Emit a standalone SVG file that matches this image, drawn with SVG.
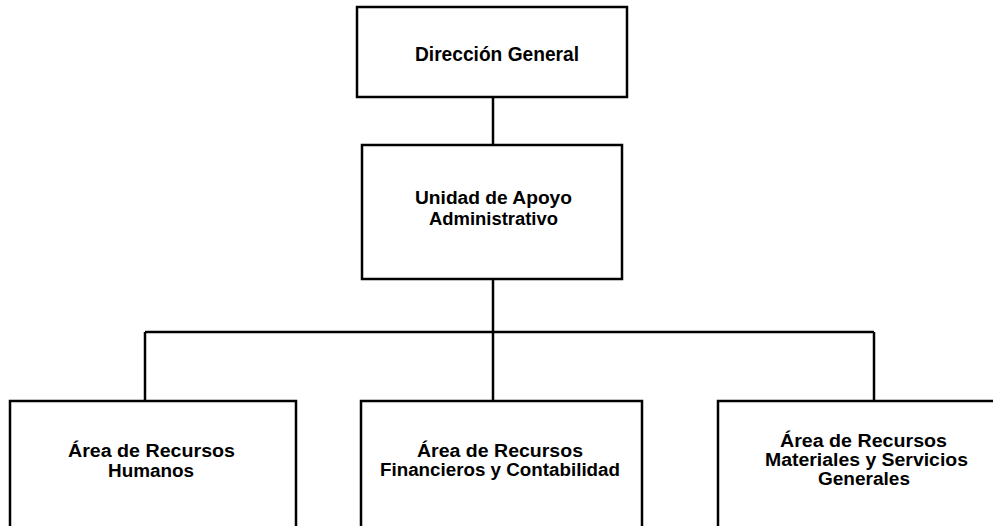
<svg xmlns="http://www.w3.org/2000/svg" width="993" height="526" viewBox="0 0 993 526">
<style>
.box{fill:#fff;stroke:#000;stroke-width:2.5}
.ln{fill:none;stroke:#000;stroke-width:2.5}
text{font-family:"Liberation Sans",Arial,sans-serif;font-size:18px;font-weight:bold;text-anchor:middle;fill:#000}
.big{font-size:21px}
</style>
<rect width="993" height="526" fill="#fff"/>
<g id="connectors">
<path class="ln" d="M493 97V145"/>
<path class="ln" d="M493 279V332"/>
<path class="ln" d="M145 332H874"/>
<path class="ln" d="M145 332V401"/>
<path class="ln" d="M493 332V401"/>
<path class="ln" d="M874 332V401"/>
</g>
<g id="direccion">
<rect class="box" x="357" y="7" width="270" height="90"/>
<text class="big" x="497" y="61" textLength="164" lengthAdjust="spacingAndGlyphs">Dirección General</text>
</g>
<g id="unidad">
<rect class="box" x="362" y="145" width="260" height="134"/>
<text x="493.5" y="204" textLength="157" lengthAdjust="spacingAndGlyphs">Unidad de Apoyo</text>
<text x="493.5" y="225" textLength="129" lengthAdjust="spacingAndGlyphs">Administrativo</text>
</g>
<g id="rh">
<rect class="box" x="10" y="401" width="286" height="140"/>
<text x="151.5" y="457" textLength="167" lengthAdjust="spacingAndGlyphs">Área de Recursos</text>
<text x="151" y="477" textLength="86" lengthAdjust="spacingAndGlyphs">Humanos</text>
</g>
<g id="rf">
<rect class="box" x="361" y="401" width="281" height="140"/>
<text x="500" y="456.5" textLength="166" lengthAdjust="spacingAndGlyphs">Área de Recursos</text>
<text x="500" y="475.5" textLength="240" lengthAdjust="spacingAndGlyphs">Financieros y Contabilidad</text>
</g>
<g id="rm">
<rect class="box" x="718" y="401" width="290" height="140"/>
<text x="863.5" y="447" textLength="167" lengthAdjust="spacingAndGlyphs">Área de Recursos</text>
<text x="866.5" y="466" textLength="203" lengthAdjust="spacingAndGlyphs">Materiales y Servicios</text>
<text x="864" y="485" textLength="92" lengthAdjust="spacingAndGlyphs">Generales</text>
</g>
</svg>
